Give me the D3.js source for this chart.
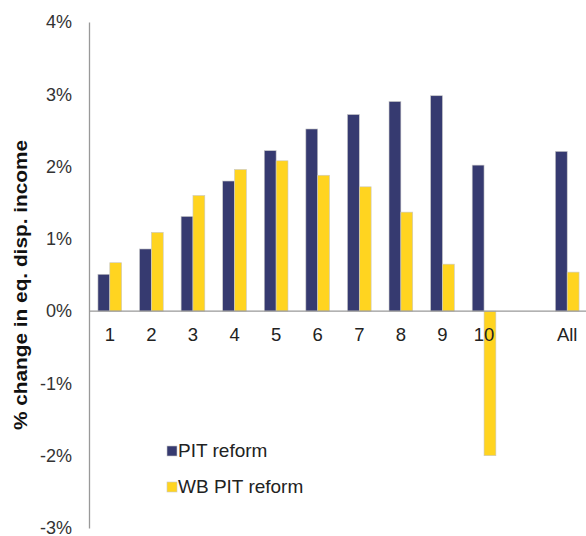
<!DOCTYPE html>
<html>
<head>
<meta charset="utf-8">
<script src="https://cdn.jsdelivr.net/npm/d3@7"></script>
<style>
  body { margin: 0; background: #fff; }
  text { font-family: "Liberation Sans", Arial, sans-serif; }
</style>
</head>
<body>
<div id="chart"></div>
<script>
// deciles 1-10, a gap, then the total
var categories = ["1", "2", "3", "4", "5", "6", "7", "8", "9", "10", "", "All"];
var pitReform = [0.51, 0.86, 1.31, 1.80, 2.22, 2.52, 2.72, 2.90, 2.98, 2.02, null, 2.21];
var wbPitReform = [0.67, 1.09, 1.60, 1.96, 2.08, 1.88, 1.72, 1.37, 0.65, -2.00, null, 0.54];
var seriesNames = ["PIT reform", "WB PIT reform"];
var yTicks = [-3, -2, -1, 0, 1, 2, 3, 4];

var colors = ["#363a70", "#ffd420"];

var width = 586, height = 536;
var margin = { top: 22, left: 89, right: -2, bottom: 8 };

var svg = d3.select("#chart")
  .append("svg")
  .attr("width", width)
  .attr("height", height);

var x = d3.scaleBand()
  .domain(categories)
  .range([margin.left, width - margin.right])
  .paddingInner(0.43)
  .paddingOuter(0.215);

var xSub = d3.scaleBand()
  .domain(seriesNames)
  .range([0, x.bandwidth()]);

var y = d3.scaleLinear()
  .domain([-3, 4])
  .range([height - margin.bottom, margin.top]);

var rows = categories.map(function(c, i) {
  return { cat: c, values: [pitReform[i], wbPitReform[i]] };
});

// bars
var groups = svg.selectAll(".grp")
  .data(rows)
  .enter()
  .append("g")
  .attr("transform", function(d) { return "translate(" + x(d.cat) + ",0)"; });

groups.selectAll("rect")
  .data(function(d) {
    return d.values.map(function(v, j) { return { name: seriesNames[j], v: v, j: j }; })
      .filter(function(e) { return e.v !== null; });
  })
  .enter()
  .append("rect")
  .attr("x", function(d) { return xSub(d.name); })
  .attr("width", xSub.bandwidth())
  .attr("y", function(d) { return y(Math.max(0, d.v)); })
  .attr("height", function(d) { return Math.abs(y(d.v) - y(0)); })
  .attr("fill", function(d) { return colors[d.j]; })
  .attr("stroke", "#c8c8c8")
  .attr("stroke-width", 0.6);

// y axis
var yAxis = svg.append("g")
  .attr("transform", "translate(" + margin.left + ",0)")
  .call(d3.axisLeft(y).tickValues(yTicks).tickSize(0).tickPadding(17)
    .tickFormat(function(d) { return d + "%"; }));
yAxis.select(".domain").attr("stroke", "#999").attr("stroke-width", 1.3);
yAxis.selectAll("text")
  .attr("font-size", 18)
  .attr("fill", "#333")
  .style("font-family", "'Liberation Sans', Arial, sans-serif");

// zero line
svg.append("line")
  .attr("x1", margin.left)
  .attr("x2", width)
  .attr("y1", y(0))
  .attr("y2", y(0))
  .attr("stroke", "#999")
  .attr("stroke-width", 1.3);

// category labels
svg.selectAll(".catlabel")
  .data(categories)
  .enter()
  .append("text")
  .attr("x", function(d) { return x(d) + x.bandwidth() / 2; })
  .attr("y", y(0) + 30)
  .attr("text-anchor", "middle")
  .attr("font-size", 18.5)
  .attr("fill", "#222")
  .text(function(d) { return d; });

// y title
svg.append("text")
  .attr("transform", "translate(27," + 285 + ") rotate(-90)")
  .attr("text-anchor", "middle")
  .attr("font-size", 18)
  .attr("font-weight", "bold")
  .attr("fill", "#111")
  .attr("textLength", 290)
  .attr("lengthAdjust", "spacingAndGlyphs")
  .text("% change in eq. disp. income");

// legend
var legend = svg.selectAll(".leg")
  .data(seriesNames)
  .enter()
  .append("g")
  .attr("transform", function(d, i) { return "translate(167," + (446 + i * 36) + ")"; });

legend.append("rect")
  .attr("width", 10)
  .attr("height", 10)
  .attr("fill", function(d, i) { return colors[i]; })
  .attr("stroke", "#c8c8c8")
  .attr("stroke-width", 0.6);

legend.append("text")
  .attr("x", 11)
  .attr("y", 11)
  .attr("font-size", 19)
  .attr("fill", "#222")
  .text(function(d) { return d; });
</script>
</body>
</html>
